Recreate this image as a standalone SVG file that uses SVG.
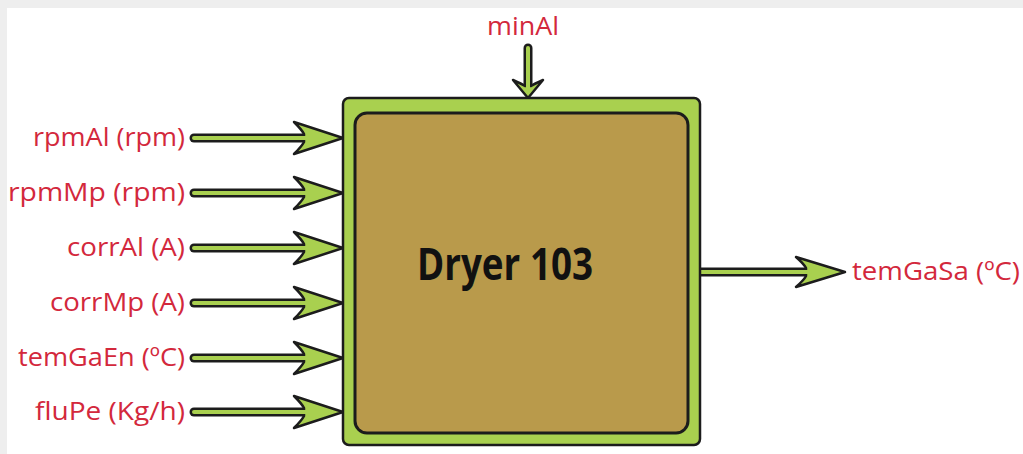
<svg xmlns="http://www.w3.org/2000/svg" width="1023" height="454" viewBox="0 0 1023 454">
  <style>
    .lbl { font-family: "Open Sans", "Noto Sans", sans-serif; font-size: 26px; fill: #d3283c; }
    .title { font-family: "Open Sans", "Noto Sans", sans-serif; font-size: 36px; font-weight: bold; fill: #111111; }
    .shaftOut { stroke: #1c1c1c; stroke-width: 9; stroke-linecap: round; fill: none; }
    .shaftIn { stroke: #a9d04f; stroke-width: 4; stroke-linecap: round; fill: none; }
    .head { fill: #a9d04f; stroke: #1c1c1c; stroke-width: 2.5; stroke-linejoin: round; }
  </style>
  <rect x="0" y="0" width="1023" height="454" fill="#eeeeee"/>
  <rect x="7" y="8" width="1016" height="446" fill="#ffffff"/>

  <g id="connectors">
    <g id="c-minAl">
      <line class="shaftOut" x1="528" y1="48" x2="528" y2="86"/>
      <path class="head" d="M528 98 L513 80 Q522 84 525 86 L531 86 Q534 84 543 80 Z"/>
      <line class="shaftIn" x1="528" y1="48" x2="528" y2="88"/>
    </g>
    <g id="c-rpmAl">
      <line class="shaftOut" x1="194" y1="138" x2="306" y2="138"/>
      <path class="head" d="M343 138 L294 122 Q302 130 304 134 L304 142 Q302 146 294 154 Z"/>
      <line class="shaftIn" x1="194" y1="138" x2="308" y2="138"/>
    </g>
    <g id="c-rpmMp">
      <line class="shaftOut" x1="194" y1="193" x2="306" y2="193"/>
      <path class="head" d="M343 193 L294 177 Q302 185 304 189 L304 197 Q302 201 294 209 Z"/>
      <line class="shaftIn" x1="194" y1="193" x2="308" y2="193"/>
    </g>
    <g id="c-corrAl">
      <line class="shaftOut" x1="194" y1="248" x2="306" y2="248"/>
      <path class="head" d="M343 248 L294 232 Q302 240 304 244 L304 252 Q302 256 294 264 Z"/>
      <line class="shaftIn" x1="194" y1="248" x2="308" y2="248"/>
    </g>
    <g id="c-corrMp">
      <line class="shaftOut" x1="194" y1="303" x2="306" y2="303"/>
      <path class="head" d="M343 303 L294 287 Q302 295 304 299 L304 307 Q302 311 294 319 Z"/>
      <line class="shaftIn" x1="194" y1="303" x2="308" y2="303"/>
    </g>
    <g id="c-temGaEn">
      <line class="shaftOut" x1="194" y1="358" x2="306" y2="358"/>
      <path class="head" d="M343 358 L294 342 Q302 350 304 354 L304 362 Q302 366 294 374 Z"/>
      <line class="shaftIn" x1="194" y1="358" x2="308" y2="358"/>
    </g>
    <g id="c-fluPe">
      <line class="shaftOut" x1="194" y1="412" x2="306" y2="412"/>
      <path class="head" d="M343 412 L294 396 Q302 404 304 408 L304 416 Q302 420 294 428 Z"/>
      <line class="shaftIn" x1="194" y1="412" x2="308" y2="412"/>
    </g>
    <g id="c-temGaSa">
      <line class="shaftOut" x1="700" y1="272" x2="808" y2="272" stroke-linecap="butt"/>
      <path class="head" d="M845 272 L796 257 Q804 264 806 268 L806 276 Q804 280 796 287 Z"/>
      <line class="shaftIn" x1="700" y1="272" x2="810" y2="272" stroke-linecap="butt"/>
    </g>
  </g>

  <g id="node-dryer">
    <rect x="343" y="98" width="357" height="347" rx="6" fill="#a9d04f" stroke="#1c1c1c" stroke-width="2.5"/>
    <rect x="355" y="113" width="333" height="320" rx="12" fill="#b99a4b" stroke="#1c1c1c" stroke-width="3"/>
    <text class="title" text-anchor="middle" transform="translate(505,280) scale(1,1.22)" x="0" y="0" textLength="176" lengthAdjust="spacingAndGlyphs">Dryer 103</text>
  </g>

  <g id="node-minAl"><text class="lbl" x="487" y="35" textLength="72" lengthAdjust="spacingAndGlyphs">minAl</text></g>
  <g id="node-rpmAl"><text class="lbl" x="33" y="146" textLength="152" lengthAdjust="spacingAndGlyphs">rpmAl (rpm)</text></g>
  <g id="node-rpmMp"><text class="lbl" x="8" y="201" textLength="177" lengthAdjust="spacingAndGlyphs">rpmMp (rpm)</text></g>
  <g id="node-corrAl"><text class="lbl" x="67" y="256" textLength="118" lengthAdjust="spacingAndGlyphs">corrAl (A)</text></g>
  <g id="node-corrMp"><text class="lbl" x="50" y="311" textLength="135" lengthAdjust="spacingAndGlyphs">corrMp (A)</text></g>
  <g id="node-temGaEn"><text class="lbl" x="18" y="366" textLength="167" lengthAdjust="spacingAndGlyphs">temGaEn (ºC)</text></g>
  <g id="node-fluPe"><text class="lbl" x="35" y="420" textLength="150" lengthAdjust="spacingAndGlyphs">fluPe (Kg/h)</text></g>
  <g id="node-temGaSa"><text class="lbl" x="852" y="280" textLength="168" lengthAdjust="spacingAndGlyphs">temGaSa (ºC)</text></g>
</svg>
